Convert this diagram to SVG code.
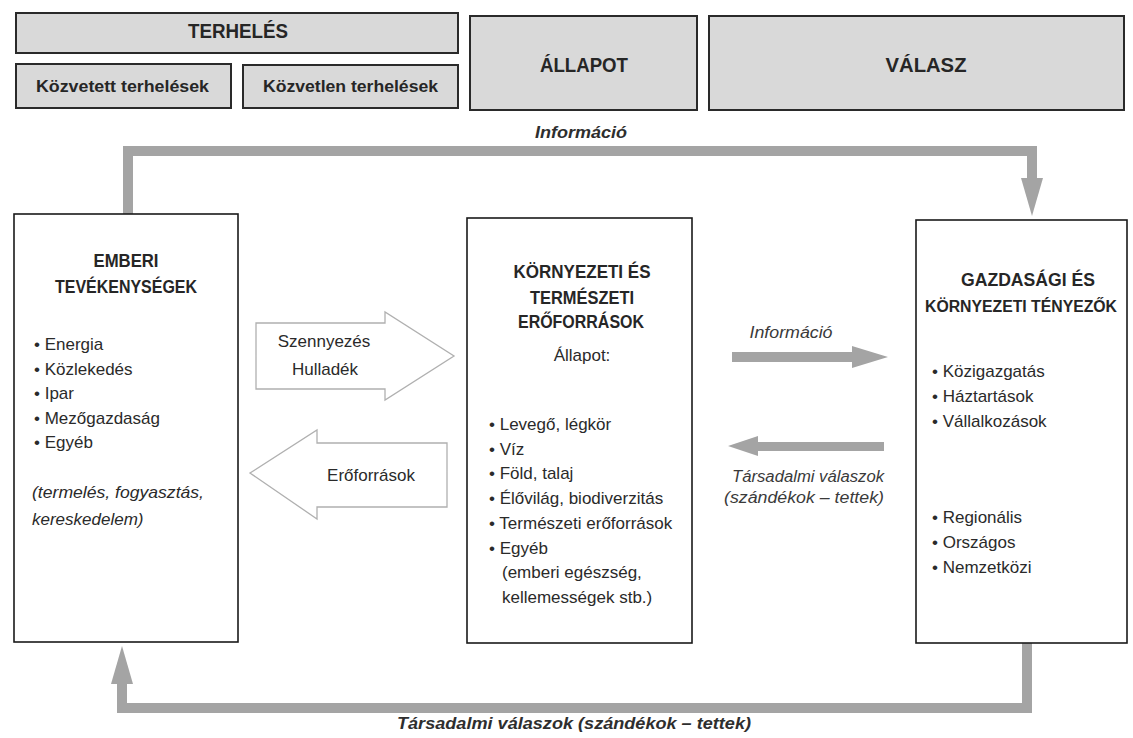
<svg xmlns="http://www.w3.org/2000/svg" width="1133" height="738" viewBox="0 0 1133 738">
<style>
.bg{fill:#ffffff}
.hdr{fill:#d9d9d9;stroke:#2a2a2a;stroke-width:2}
.box{fill:#ffffff;stroke:#1a1a1a;stroke-width:1.6}
.hb{font-family:"Liberation Sans Narrow","Liberation Sans",Arial,sans-serif;font-weight:bold;fill:#262626}
.t{font-family:"Liberation Sans",Arial,sans-serif;font-size:17px;fill:#2a2a2a}
.it{font-family:"Liberation Sans",Arial,sans-serif;font-size:16px;font-style:italic;fill:#3a3a3a}
.bi{font-family:"Liberation Sans",Arial,sans-serif;font-size:17px;font-style:italic;font-weight:bold;fill:#2e2e2e}
.loop{fill:none;stroke:#a4a4a4;stroke-width:10}
.garrow{fill:#a4a4a4}
.hollow{fill:#ffffff;stroke:#b0b0b0;stroke-width:1.3}
</style>
<defs>
<marker id="head" markerUnits="userSpaceOnUse" viewBox="0 -12 40 24" refX="1" refY="0" markerWidth="40" markerHeight="24" orient="auto">
<path d="M0,-11 L38,0 L0,11 Z" fill="#a4a4a4"/>
</marker>
</defs>
<rect class="bg" x="0" y="0" width="1133" height="738"/>

<g id="terheles">
<rect class="hdr" x="16" y="13" width="442" height="40"/>
<text class="hb" x="238" y="38" font-size="21" text-anchor="middle" textLength="100" lengthAdjust="spacingAndGlyphs">TERHELÉS</text>
</g>
<g id="kozvetett">
<rect class="hdr" x="16" y="64" width="215" height="44"/>
<text class="hb" x="122.5" y="92" font-size="16" text-anchor="middle" textLength="173" lengthAdjust="spacingAndGlyphs">Közvetett terhelések</text>
</g>
<g id="kozvetlen">
<rect class="hdr" x="243" y="65" width="215" height="43"/>
<text class="hb" x="350.5" y="92" font-size="16" text-anchor="middle" textLength="175" lengthAdjust="spacingAndGlyphs">Közvetlen terhelések</text>
</g>
<g id="allapot">
<rect class="hdr" x="470" y="16" width="227" height="94"/>
<text class="hb" x="584" y="72" font-size="21" text-anchor="middle" textLength="88" lengthAdjust="spacingAndGlyphs">ÁLLAPOT</text>
</g>
<g id="valasz">
<rect class="hdr" x="709" y="16" width="415" height="94"/>
<text class="hb" x="926" y="72" font-size="21" text-anchor="middle" textLength="81" lengthAdjust="spacingAndGlyphs">VÁLASZ</text>
</g>

<g id="connectors">
<path class="loop" d="M128,214 V151 H1032 V179" marker-end="url(#head)"/>
<path class="loop" d="M1027,643 V708 H122 V683" marker-end="url(#head)"/>
<text class="bi" x="581" y="138" text-anchor="middle" textLength="92" lengthAdjust="spacingAndGlyphs">Információ</text>
<text class="bi" x="574" y="729" text-anchor="middle" textLength="354" lengthAdjust="spacingAndGlyphs">Társadalmi válaszok (szándékok – tettek)</text>
<polygon class="hollow" points="256,323 385,323 385,312 454,356 385,400 385,389 256,389"/>
<text class="t" x="324" y="347" text-anchor="middle" font-size="16">Szennyezés</text>
<text class="t" x="325" y="375" text-anchor="middle" font-size="16">Hulladék</text>
<polygon class="hollow" points="447,443 317,443 317,430 250,473 317,519 317,507 447,507"/>
<text class="t" x="371" y="481" text-anchor="middle" font-size="16">Erőforrások</text>
<polygon class="garrow" points="732,352 852,352 852,346 888,357 852,368 852,362 732,362"/>
<text class="it" x="791" y="338" text-anchor="middle" textLength="83" lengthAdjust="spacingAndGlyphs">Információ</text>
<polygon class="garrow" points="884,442 758,442 758,436 728,446 758,456 758,451 884,451"/>
<text class="it" x="808" y="482" text-anchor="middle" textLength="152" lengthAdjust="spacingAndGlyphs">Társadalmi válaszok</text>
<text class="it" x="804" y="503" text-anchor="middle" textLength="160" lengthAdjust="spacingAndGlyphs">(szándékok – tettek)</text>
</g>

<g id="emberi">
<rect class="box" x="14" y="214" width="224" height="428"/>
<text class="hb" x="126" y="267" font-size="19" text-anchor="middle" textLength="65" lengthAdjust="spacingAndGlyphs">EMBERI</text>
<text class="hb" x="126" y="293" font-size="19" text-anchor="middle" textLength="142" lengthAdjust="spacingAndGlyphs">TEVÉKENYSÉGEK</text>
<text class="t" x="34" y="350">• Energia</text>
<text class="t" x="34" y="374.5">• Közlekedés</text>
<text class="t" x="34" y="399">• Ipar</text>
<text class="t" x="34" y="423.5">• Mezőgazdaság</text>
<text class="t" x="34" y="448">• Egyéb</text>
<text class="t" x="32" y="498" font-style="italic" textLength="172" lengthAdjust="spacingAndGlyphs">(termelés, fogyasztás,</text>
<text class="t" x="32" y="525" font-style="italic">kereskedelem)</text>
</g>

<g id="kornyezeti">
<rect class="box" x="467" y="218" width="225" height="425"/>
<text class="hb" x="582" y="278" font-size="19" text-anchor="middle" textLength="137" lengthAdjust="spacingAndGlyphs">KÖRNYEZETI  ÉS</text>
<text class="hb" x="582" y="304" font-size="19" text-anchor="middle" textLength="104" lengthAdjust="spacingAndGlyphs">TERMÉSZETI</text>
<text class="hb" x="581" y="328" font-size="19" text-anchor="middle" textLength="126" lengthAdjust="spacingAndGlyphs">ERŐFORRÁSOK</text>
<text class="t" x="582" y="361" text-anchor="middle">Állapot:</text>
<text class="t" x="489" y="430">• Levegő, légkör</text>
<text class="t" x="489" y="454.7">• Víz</text>
<text class="t" x="489" y="479.4">• Föld, talaj</text>
<text class="t" x="489" y="504">• Élővilág, biodiverzitás</text>
<text class="t" x="489" y="528.8">• Természeti erőforrások</text>
<text class="t" x="489" y="553.5">• Egyéb</text>
<text class="t" x="502" y="578">(emberi egészség,</text>
<text class="t" x="502" y="603">kellemességek stb.)</text>
</g>

<g id="gazdasagi">
<rect class="box" x="916" y="220" width="211" height="423"/>
<text class="hb" x="1028" y="286" font-size="18" text-anchor="middle" textLength="134" lengthAdjust="spacingAndGlyphs">GAZDASÁGI ÉS</text>
<text class="hb" x="1021" y="312" font-size="16" text-anchor="middle" textLength="192" lengthAdjust="spacingAndGlyphs">KÖRNYEZETI TÉNYEZŐK</text>
<text class="t" x="932" y="377">• Közigazgatás</text>
<text class="t" x="932" y="402">• Háztartások</text>
<text class="t" x="932" y="427">• Vállalkozások</text>
<text class="t" x="932" y="523">• Regionális</text>
<text class="t" x="932" y="548">• Országos</text>
<text class="t" x="932" y="573">• Nemzetközi</text>
</g>
</svg>
